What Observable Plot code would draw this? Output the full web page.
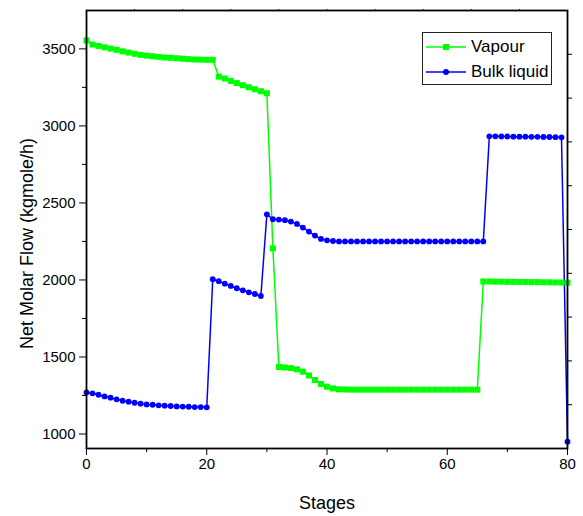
<!DOCTYPE html>
<html>
<head>
<meta charset="utf-8">
<script src="https://cdn.jsdelivr.net/npm/d3@7"></script>
<script src="https://cdn.jsdelivr.net/npm/@observablehq/plot@0.6"></script>
<style>
  html, body { margin: 0; padding: 0; background: #fff; }
  #wrap { position: relative; width: 583px; height: 516px; font-family: "Liberation Sans", Arial, sans-serif; }
  #legend { position: absolute; left: 422px; top: 32px; width: 130px; height: 53px; border: 1px solid #222; background: #fff; box-sizing: border-box; }
  #legend .row { position: absolute; left: 0; height: 24px; display: flex; align-items: center; white-space: nowrap; }
  #legend .row span { font-size: 17px; color: #000; margin-left: 3px; }
</style>
</head>
<body>
<div id="wrap"></div>
<script>
const stages = d3.range(0, 81);
const vapour = [
  3554, 3528, 3519, 3510, 3502, 3494, 3484, 3476, 3468, 3461,
  3456, 3452, 3448, 3444, 3442, 3439, 3436, 3433, 3431, 3430,
  3429, 3429, 3320, 3308, 3292, 3278, 3264, 3251, 3238, 3225,
  3212, 2205, 1435, 1432, 1428, 1420, 1405, 1380, 1350, 1325,
  1307, 1296, 1290, 1289, 1288, 1288, 1288, 1288, 1288, 1288,
  1288, 1288, 1288, 1288, 1288, 1288, 1288, 1288, 1288, 1288,
  1288, 1288, 1288, 1288, 1288, 1288, 1990, 1990, 1989, 1989,
  1988, 1988, 1987, 1987, 1986, 1986, 1985, 1985, 1984, 1983,
  1982
];
const bulkLiquid = [
  1270, 1264, 1255, 1244, 1236, 1225, 1216, 1210, 1203, 1197,
  1192, 1190, 1186, 1184, 1182, 1179, 1178, 1177, 1175, 1175,
  1173, 2005, 1992, 1976, 1961, 1946, 1933, 1920, 1909, 1896,
  2426, 2394, 2392, 2388, 2379, 2364, 2340, 2314, 2288, 2266,
  2257, 2253, 2250, 2250, 2250, 2250, 2250, 2250, 2250, 2250,
  2250, 2250, 2250, 2250, 2250, 2250, 2250, 2250, 2250, 2250,
  2250, 2250, 2250, 2250, 2250, 2250, 2250, 2932, 2932, 2931,
  2931, 2930, 2930, 2930, 2929, 2929, 2928, 2928, 2927, 2926,
  950
];
const xMajorTicks = [0, 20, 40, 60, 80];
const xMinorTicks = [10, 30, 50, 70];
const yMajorTicks = [1000, 1500, 2000, 2500, 3000, 3500];
const yMinorTicks = [1250, 1750, 2250, 2750, 3250];
const xDomain = [0, 80];
const yDomain = [906, 3749];
const xTopTicks = d3.range(8, 80, 8);
const yRightTicks = d3.range(1, 10).map(k => yDomain[0] + k * (yDomain[1] - yDomain[0]) / 10);

const seriesNames = ["Vapour", "Bulk liquid"];
const seriesColors = ["#00ff00", "#0000ff"];

const vData = stages.map((s, i) => ({stage: s, value: vapour[i]}));
const bData = stages.map((s, i) => ({stage: s, value: bulkLiquid[i]}));

const chart = Plot.plot({
  width: 583,
  height: 516,
  marginLeft: 86,
  marginRight: 16,
  marginTop: 10,
  marginBottom: 68,
  style: {fontFamily: "'Liberation Sans', Arial, sans-serif", fontSize: "15px", color: "#000", background: "#fff"},
  x: {domain: xDomain},
  y: {domain: yDomain},
  marks: [
    Plot.axisX({ticks: xMajorTicks, tickSize: 7, tickPadding: 3, tickFormat: d => String(d), label: null, fontSize: 15}),
    Plot.axisX({ticks: xMinorTicks, tickSize: 4, text: null, label: null}),
    Plot.axisX({anchor: "top", ticks: xTopTicks, tickSize: 2, text: null, label: null}),
    Plot.axisY({ticks: yMajorTicks, tickSize: 7, tickPadding: 4, tickFormat: d => String(d), label: null, fontSize: 15}),
    Plot.axisY({ticks: yMinorTicks, tickSize: 4, text: null, label: null}),
    Plot.axisY({anchor: "right", ticks: yRightTicks, tickSize: 4, text: null, label: null}),
    Plot.text(["Stages"], {frameAnchor: "bottom", dy: 60, fontSize: 18}),
    Plot.text(["Net Molar Flow (kgmole/h)"], {frameAnchor: "left", textAnchor: "middle", rotate: -90, dx: -59, dy: 14, fontSize: 18}),
    Plot.line(vData, {x: "stage", y: "value", stroke: seriesColors[0], strokeWidth: 1.5}),
    Plot.line(bData, {x: "stage", y: "value", stroke: seriesColors[1], strokeWidth: 1.5}),
    Plot.dot(vData, {x: "stage", y: "value", symbol: "square", r: 3.4, fill: seriesColors[0], stroke: "none"}),
    Plot.dot(bData, {x: "stage", y: "value", symbol: "circle", r: 2.9, fill: seriesColors[1], stroke: "none"}),
    Plot.frame({stroke: "#000", strokeWidth: 1.8})
  ]
});
const wrap = document.getElementById("wrap");
wrap.appendChild(chart);

const legend = document.createElement("div");
legend.id = "legend";
seriesNames.forEach((name, i) => {
  const row = document.createElement("div");
  row.className = "row";
  row.style.top = (2 + i * 25) + "px";
  const sym = i === 0
    ? `<rect x="17" y="5" width="6" height="6" fill="${seriesColors[i]}"/>`
    : `<circle cx="20" cy="8" r="3" fill="${seriesColors[i]}"/>`;
  row.innerHTML = `<svg width="42" height="16" style="margin-left:3px"><line x1="0" x2="40" y1="8" y2="8" stroke="${seriesColors[i]}" stroke-width="1.3"/>${sym}</svg><span>${name}</span>`;
  legend.appendChild(row);
});
wrap.appendChild(legend);
</script>
</body>
</html>
